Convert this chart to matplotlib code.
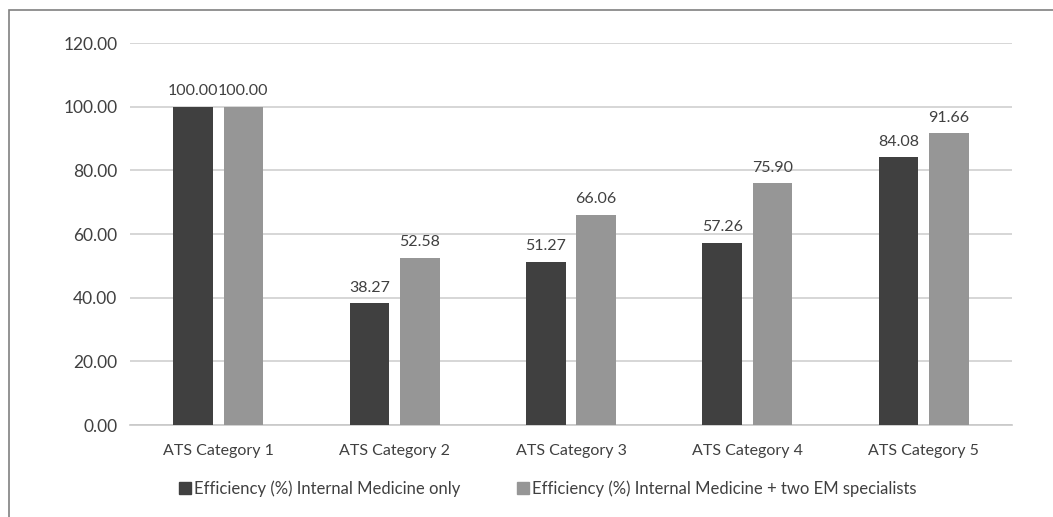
import matplotlib
matplotlib.use("Agg")
import matplotlib.pyplot as plt
import numpy as np
from matplotlib.patches import Rectangle
from matplotlib.lines import Line2D

categories = ["ATS Category 1", "ATS Category 2", "ATS Category 3", "ATS Category 4", "ATS Category 5"]
im_only = [100.00, 38.27, 51.27, 57.26, 84.08]
im_em = [100.00, 52.58, 66.06, 75.90, 91.66]
series_names = [
    "Efficiency (%) Internal Medicine only",
    "Efficiency (%) Internal Medicine + two EM specialists",
]
yticks = [0, 20, 40, 60, 80, 100, 120]

DARK = "#404040"
LIGHT = "#969696"
TEXT = "#404040"

plt.rcParams["font.family"] = ["Lato", "DejaVu Sans"]

fig = plt.figure(figsize=(10.53, 5.17), dpi=100)
ax = fig.add_axes([130 / 1053, 1 - 425 / 517, (1012 - 130) / 1053, (425 - 43) / 517])

x = np.arange(len(categories))
w = 0.225
off = 0.143
b1 = ax.bar(x - off, im_only, w, color=DARK, zorder=3)
b2 = ax.bar(x + off, im_em, w, color=LIGHT, zorder=3)

for bars, vals in ((b1, im_only), (b2, im_em)):
    for rect, v in zip(bars, vals):
        ax.annotate(f"{v:.2f}", (rect.get_x() + rect.get_width() / 2, v),
                    xytext=(0, 6), textcoords="offset points",
                    ha="center", va="bottom", fontsize=11.5, color=TEXT)

ax.set_xlim(-0.5, len(categories) - 0.5)
ax.set_ylim(0, 120)
ax.set_yticks(yticks)
ax.set_yticklabels([f"{t:.2f}" for t in yticks])
ax.set_xticks(x)
ax.set_xticklabels(categories)
ax.tick_params(axis="both", length=0, colors=TEXT)
ax.tick_params(axis="y", pad=9, labelsize=12.5)
ax.tick_params(axis="x", pad=14, labelsize=11.5)
ax.grid(axis="y", color="#d0d0d0", lw=1.2, zorder=0)
for s in ("top", "right", "left"):
    ax.spines[s].set_visible(False)
ax.spines["bottom"].set_color("#c8c8c8")
ax.spines["bottom"].set_linewidth(1.2)

handles = [
    Line2D([], [], marker="s", ls="none", color=DARK, markersize=8),
    Line2D([], [], marker="s", ls="none", color=LIGHT, markersize=8),
]
fig.legend(handles, series_names, loc="center", bbox_to_anchor=(0.519, 1 - 489 / 517),
           ncol=2, frameon=False, fontsize=12, labelcolor=TEXT,
           handletextpad=0.0, columnspacing=3.3, handlelength=1.0)

fig.patches.append(Rectangle((9 / 1053, -0.1), 1.2, 1 - 10 / 517 + 0.1,
                             transform=fig.transFigure, fill=False,
                             edgecolor="#808080", lw=1.2))

fig.savefig("out.png", dpi=100)
